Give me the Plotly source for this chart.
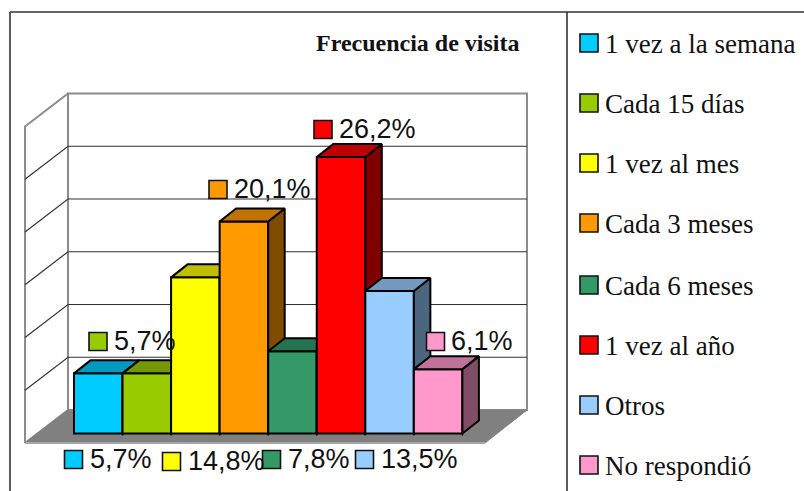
import plotly.graph_objects as go

# --- data ---
categories = ["1 vez a la semana", "Cada 15 días", "1 vez al mes", "Cada 3 meses",
              "Cada 6 meses", "1 vez al año", "Otros", "No respondió"]
values = [5.7, 5.7, 14.8, 20.1, 7.8, 26.2, 13.5, 6.1]
front_colors = ["#00CCFF", "#99CC00", "#FFFF00", "#FF9900", "#339966", "#FF0000", "#99CCFF", "#FF99CC"]
top_colors = ["#0099BF", "#739900", "#BFBF00", "#BF7300", "#267350", "#BF0000", "#7399BF", "#BF7399"]
side_colors = ["#004D60", "#4D6600", "#808000", "#804D00", "#1A4D33", "#800000", "#4D6680", "#804D66"]
grid_values = [5, 10, 15, 20, 25]
axis_max = 30
title_text = "Frecuencia de visita"

# --- layout constants (pixels of the 804x491 page) ---
W, H = 804, 491
X0, BAR_W = 74.0, 48.55     # left edge of the first bar, bar width
Y0, UNIT = 433.5, 10.55     # pixel of the value 0 at the bars' front, pixels per percentage point
BAR_DX, BAR_DY = 16.5 / BAR_W, 13.0 / UNIT        # bar depth in axis units
WALL_L, WALL_R = (68 - X0) / BAR_W, (527 - X0) / BAR_W
FRONT_L, FRONT_R = (25 - X0) / BAR_W, (485 - X0) / BAR_W
WALL_Y0 = (Y0 - 410) / UNIT     # back wall zero
FRONT_Y0 = (Y0 - 443) / UNIT    # floor front edge

xr = [-X0 / BAR_W, (W - X0) / BAR_W]
yr = [(Y0 - H) / UNIT, Y0 / UNIT]

GREY = "#8C8C8C"
fig = go.Figure()


def poly(xs, ys, fill, line, width, axes=("x", "y")):
    fig.add_trace(go.Scatter(x=xs, y=ys, mode="lines", fill="toself", fillcolor=fill,
                             line=dict(color=line, width=width), hoverinfo="skip",
                             showlegend=False, xaxis=axes[0], yaxis=axes[1]))


def line(xs, ys, color, width, axes=("x", "y")):
    fig.add_trace(go.Scatter(x=xs, y=ys, mode="lines", line=dict(color=color, width=width),
                             hoverinfo="skip", showlegend=False, xaxis=axes[0], yaxis=axes[1]))


# walls and floor
poly([WALL_L, WALL_R, WALL_R, WALL_L, WALL_L],
     [WALL_Y0, WALL_Y0, WALL_Y0 + axis_max, WALL_Y0 + axis_max, WALL_Y0], "#FFFFFF", GREY, 2)
poly([FRONT_L, WALL_L, WALL_L, FRONT_L, FRONT_L],
     [FRONT_Y0, WALL_Y0, WALL_Y0 + axis_max, FRONT_Y0 + axis_max, FRONT_Y0], "#FFFFFF", GREY, 2)
for g in grid_values:
    line([FRONT_L, WALL_L, WALL_R], [FRONT_Y0 + g, WALL_Y0 + g, WALL_Y0 + g], "#333333", 1.2)
poly([FRONT_L, WALL_L, WALL_R, FRONT_R, FRONT_L],
     [FRONT_Y0, WALL_Y0, WALL_Y0, FRONT_Y0, FRONT_Y0], "#808080", "#808080", 1)
line([FRONT_L, FRONT_R], [FRONT_Y0, FRONT_Y0], "#A6A6A6", 2)

# bars: one overlaying axis pair per bar so that nearer bars paint over farther ones
axes_layout = {}
n = 2
for i, v in enumerate(values):
    xa, ya = f"x{n}", f"y{n}"
    axes_layout[f"xaxis{n}"] = dict(overlaying="x", range=xr, visible=False)
    axes_layout[f"yaxis{n}"] = dict(overlaying="y", range=yr, visible=False)
    fig.add_trace(go.Bar(x=[i + 0.5], y=[v], width=1, name=categories[i], showlegend=False,
                         marker=dict(color=front_colors[i], line=dict(color="black", width=2)),
                         hoverinfo="skip", xaxis=xa, yaxis=ya))
    poly([i + 1, i + 1 + BAR_DX, i + 1 + BAR_DX, i + 1, i + 1],
         [0, BAR_DY, v + BAR_DY, v, 0], side_colors[i], "black", 2, (xa, ya))
    poly([i, i + BAR_DX, i + 1 + BAR_DX, i + 1, i],
         [v, v + BAR_DY, v + BAR_DY, v, v], top_colors[i], "black", 2, (xa, ya))
    line([i + 1, i + 1], [0, -2 / UNIT], "black", 1.5, (xa, ya))
    n += 1

# pixel-space overlay for keys and labels
px_x, px_y = f"x{n}", f"y{n}"
axes_layout[f"xaxis{n}"] = dict(overlaying="x", range=[0, W], visible=False)
axes_layout[f"yaxis{n}"] = dict(overlaying="y", range=[H, 0], visible=False)

# data labels, hand placed in the original
label_key_x = [73.5, 98, 171.5, 218, 271.5, 323, 364.5, 435.5]
label_key_y = [459.5, 341.5, 461.5, 189.5, 459.5, 129.5, 459.5, 341.5]
label_text_x = [90, 114, 188, 234, 288, 339, 381, 451]
label_text_y = [y + 2 for y in label_key_y]
key_line = dict(color="#111111", width=1.6)
fig.add_trace(go.Scatter(x=label_key_x, y=label_key_y, mode="markers", showlegend=False, hoverinfo="skip",
                         marker=dict(symbol="square", size=18, color=front_colors, line=key_line),
                         xaxis=px_x, yaxis=px_y))
fig.add_trace(go.Scatter(x=label_text_x, y=label_text_y, mode="text", showlegend=False, hoverinfo="skip",
                         text=[f"{v:.1f}".replace(".", ",") + "%" for v in values],
                         textposition="middle right",
                         textfont=dict(family="Liberation Sans", size=27, color="#111111"),
                         xaxis=px_x, yaxis=px_y))

# legend column
legend_key_x = [589] * 8
legend_text_x = [605] * 8
legend_y = [43, 103, 163, 223, 285, 345, 405, 465]
legend_text_y = [y + 3 for y in legend_y]
fig.add_trace(go.Scatter(x=legend_key_x, y=legend_y, mode="markers", showlegend=False, hoverinfo="skip",
                         marker=dict(symbol="square", size=18, color=front_colors, line=key_line),
                         xaxis=px_x, yaxis=px_y))
fig.add_trace(go.Scatter(x=legend_text_x, y=legend_text_y, mode="text", showlegend=False, hoverinfo="skip",
                         text=categories, textposition="middle right",
                         textfont=dict(family="Liberation Serif", size=27, color="#111111"),
                         xaxis=px_x, yaxis=px_y))

fig.update_layout(
    width=W, height=H, margin=dict(l=0, r=0, t=0, b=0), autosize=False,
    paper_bgcolor="white", plot_bgcolor="white", showlegend=False, barmode="overlay",
    xaxis=dict(range=xr, visible=False, domain=[0, 1]),
    yaxis=dict(range=yr, visible=False, domain=[0, 1]),
    annotations=[dict(text=f"<b>{title_text}</b>", x=417.5 / W, y=1 - 43 / H, xref="paper", yref="paper",
                      xanchor="center", yanchor="middle",
                      showarrow=False, font=dict(family="Liberation Serif", size=24, color="#111111"))],
    shapes=[
        dict(type="line", xref="paper", yref="paper", x0=10 / W, x1=10 / W, y0=0, y1=1 - 12 / H,
             line=dict(color="#333333", width=1.6)),
        dict(type="line", xref="paper", yref="paper", x0=567 / W, x1=567 / W, y0=0, y1=1 - 12 / H,
             line=dict(color="#333333", width=1.6)),
        dict(type="line", xref="paper", yref="paper", x0=10 / W, x1=1, y0=1 - 12 / H, y1=1 - 12 / H,
             line=dict(color="#333333", width=1.6)),
    ],
    **axes_layout,
)
fig.write_html("out.html", config=dict(displayModeBar=False),
               post_script="document.body.style.margin='0';document.body.style.overflow='hidden';")
